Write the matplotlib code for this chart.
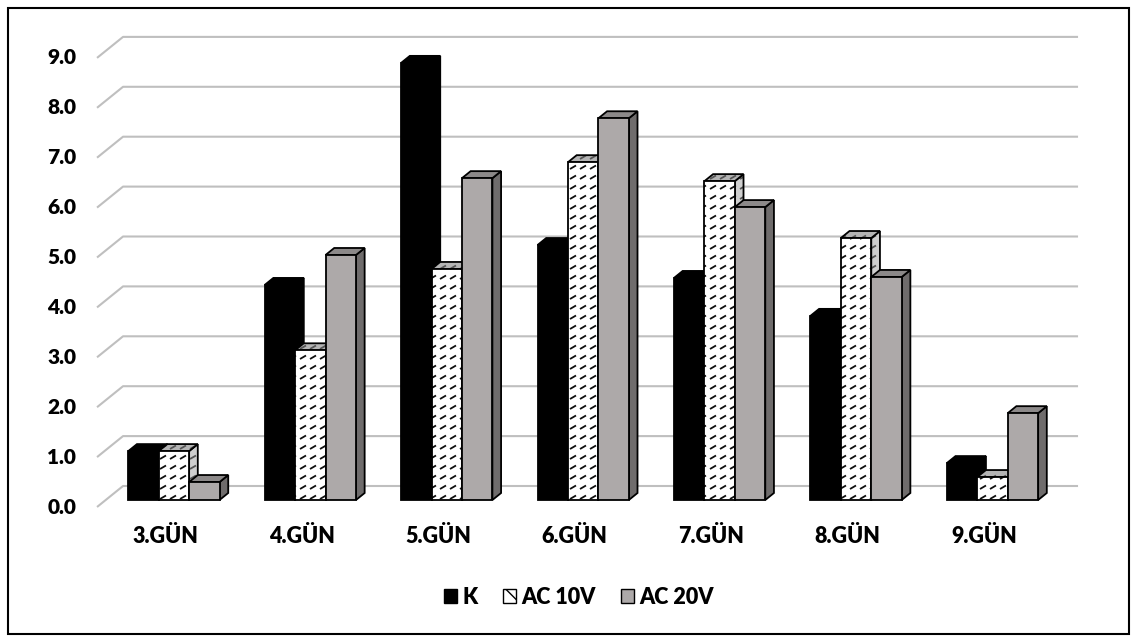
import numpy as np
import matplotlib.pyplot as plt
from matplotlib.patches import Polygon, Patch, Rectangle
from matplotlib.collections import LineCollection
from matplotlib.transforms import IdentityTransform

# chart data
days = ['3.GÜN', '4.GÜN', '5.GÜN', '6.GÜN', '7.GÜN', '8.GÜN', '9.GÜN']
series_names = ['K', 'AC 10V', 'AC 20V']
k_vals = [0.98, 4.31, 8.76, 5.11, 4.45, 3.69, 0.74]
ac10_vals = [0.98, 3.00, 4.63, 6.77, 6.39, 5.25, 0.46]
ac20_vals = [0.36, 4.91, 6.45, 7.65, 5.87, 4.47, 1.74]
y_ticks = [0, 1, 2, 3, 4, 5, 6, 7, 8, 9]

plt.rcParams['font.family'] = ['Lato', 'DejaVu Sans']
plt.rcParams['font.weight'] = 'heavy'

W, H = 1131, 639
fig = plt.figure(figsize=(W / 100, H / 100), dpi=100)

# axes = front plane of the bars
px_x = 136.43          # pixels per category
px_y = 49.9            # pixels per unit
left_px = 105.7
base_px = 500          # y = 0
ymin, ymax = -0.3, 9.5
ax = fig.add_axes([left_px / W, (H - base_px - (-ymin) * px_y) / H,
                   7 * px_x / W, (ymax - ymin) * px_y / H])
ax.set_xlim(-0.5, 6.5)
ax.set_ylim(ymin, ymax)
ax.axis('off')

# full depth of the floor (front edge -> back wall), in data units
DX = 26 / px_x
DY = 21 / px_y
dx, dy = DX / 3, DY / 3     # bar depth

grid_c = '#BFBFBF'
for v in y_ticks:
    xs = [-0.5 - dx, -0.5 + 2 * dx, 6.5 + 2 * dx]
    ys = [v - dy, v + 2 * dy, v + 2 * dy]
    ax.plot(xs, ys, color=grid_c, lw=1.5, clip_on=False, zorder=1,
            solid_capstyle='butt')
    ax.text(-0.5 - dx - 0.152, v - dy, f'{v:.1f}', ha='right', va='center',
            fontsize=15, fontweight='heavy')

for i, d in enumerate(days):
    ax.text(i - dx, -0.74, d, ha='center', va='center', fontsize=15.5,
            fontweight='heavy')


def dash_fill(poly, color, z):
    # Excel "dashed upward diagonal" pattern, drawn in screen pixels
    verts = ax.transData.transform(poly.get_xy())
    x0, y0 = verts.min(axis=0)
    x1, y1 = verts.max(axis=0)
    segs = []
    for yy in np.arange(np.floor(y0 / 10) * 10, y1 + 10, 10):
        for xx in np.arange(np.floor(x0 / 10) * 10 - 10, x1 + 10, 10):
            segs.append([(xx, yy), (xx + 6, yy + 3.5)])
    lc = LineCollection(segs, colors=color, linewidths=1.3,
                        transform=IdentityTransform(), zorder=z)
    ax.add_collection(lc, autolim=False)
    lc.set_clip_path(poly)


styles = [
    dict(front='black', top='black', side='black', dash=None),
    dict(front='white', top='#B4B4B4', side='#CFCFCF', dash='#111111'),
    dict(front='#ADA9A9', top='#8C8989', side='#6F6C6C', dash=None),
]
series = [k_vals, ac10_vals, ac20_vals]
bw = 0.223
z = 10
for i in range(len(days)):
    for s, vals in enumerate(series):
        st = styles[s]
        x0 = i + (s - 1) * bw - bw / 2
        h = vals[i]
        faces = [
            ('side', [(x0 + bw, 0), (x0 + bw + dx, dy), (x0 + bw + dx, h + dy), (x0 + bw, h)]),
            ('top', [(x0, h), (x0 + bw, h), (x0 + bw + dx, h + dy), (x0 + dx, h + dy)]),
            ('front', [(x0, 0), (x0 + bw, 0), (x0 + bw, h), (x0, h)]),
        ]
        for name, pts in faces:
            p = Polygon(pts, closed=True, facecolor=st[name], edgecolor='none',
                        zorder=z, clip_on=False)
            ax.add_patch(p)
            if st['dash']:
                dash_fill(p, st['dash'] if name == 'front' else '#555555', z + 0.5)
            e = Polygon(pts, closed=True, fill=False, edgecolor='black',
                        lw=1.3, zorder=z + 0.8, clip_on=False, joinstyle='miter')
            ax.add_patch(e)
            z += 1

handles = [
    Patch(facecolor='black', edgecolor='black', label=series_names[0]),
    Patch(facecolor='white', edgecolor='black', hatch='\\\\', label=series_names[1]),
    Patch(facecolor='#ADA9A9', edgecolor='black', label=series_names[2]),
]
fig.legend(handles=handles, loc='center', bbox_to_anchor=(579 / W, 1 - 597 / H),
           ncol=3, frameon=False, prop=dict(size=15.5, weight='heavy'),
           handlelength=0.62, handleheight=0.62, handletextpad=0.25,
           columnspacing=1.15)

fig.add_artist(Rectangle((8 / W, 1 - 634 / H), (1129 - 8) / W, (634 - 8) / H,
                         transform=fig.transFigure, fill=False,
                         edgecolor='black', lw=1.5))

fig.savefig('out.png', dpi=100)
